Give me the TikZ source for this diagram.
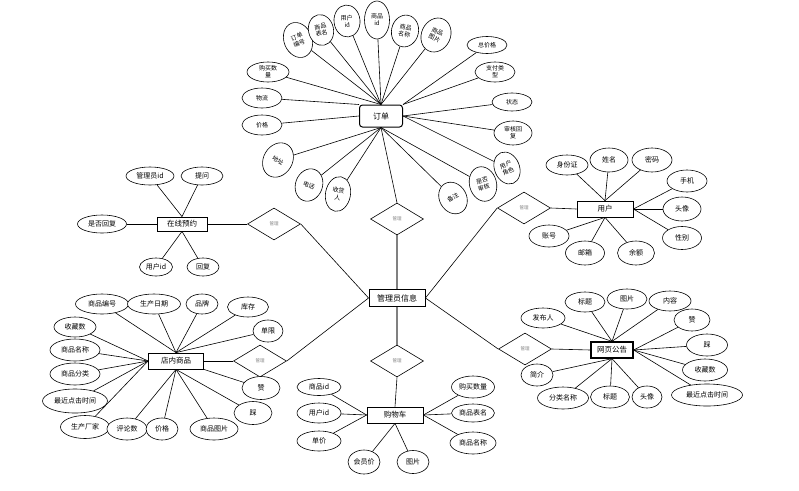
\documentclass[tikz,border=0pt]{standalone}
\usepackage{fontspec}
\setmainfont{Noto Sans CJK SC}
\usepackage{tikz}
\usetikzlibrary{shapes.geometric}
\tikzstyle{entity} = [
  draw,
  rectangle,
  fill=white,
  line width=0.8pt,
  minimum height=16pt,
  inner sep=1pt,
  font=\fontsize{7.5}{8}\selectfont,
]
\tikzstyle{attr} = [
  draw,
  ellipse,
  fill=white,
  line width=0.6pt,
  inner sep=0.5pt,
  minimum height=20pt,
  align=center,
  font=\fontsize{7}{8}\selectfont,
]
\tikzstyle{oattr} = [
  attr,
  font=\fontsize{6}{7}\selectfont,
]
\tikzstyle{relation} = [
  draw,
  diamond,
  fill=white,
  line width=0.6pt,
  minimum width=53pt,
  minimum height=32pt,
  inner sep=0pt,
  text=gray,
  font=\fontsize{4.5}{5}\selectfont,
]
\tikzstyle{link} = [
  line width=0.6pt,
]
\tikzstyle{mainlink} = [
  gray,
  line width=1.3pt,
]

\begin{document}
\begin{tikzpicture}[
    x=1pt,
    y=-1pt,
  ]
  \useasboundingbox (0,0) rectangle (799,490);

  % entities
  \node[
    entity,
    minimum width=43pt,
    minimum height=22pt,
    rounded corners=3pt,
    line width=1pt,
    font=\fontsize{8}{9}\selectfont,
  ](order) at (381,116) {订单};
  \node[
    entity,
    minimum width=56pt,
    minimum height=17pt,
    line width=0.9pt,
    font=\fontsize{8}{9}\selectfont,
  ](admin) at (397,298) {管理员信息};
  \node[
    entity,
    minimum width=50pt,
    minimum height=14pt,
  ](booking) at (182,224) {在线预约};
  \node[
    entity,
    minimum width=56pt,
  ](user) at (605,209) {用户};
  \node[
    entity,
    minimum width=55pt,
  ](goods) at (176,361) {店内商品};
  \node[
    entity,
    minimum width=56pt,
  ](cart) at (395,415) {购物车};
  \node[
    entity,
    minimum width=42pt,
    line width=1.3pt,
  ](notice) at (612,350) {网页公告};

  % relations
  \node[relation] (rorder) at (397,219) {管理};
  \node[relation] (rcart) at (397,361) {管理};
  \node[relation] (rbooking) at (274,224) {管理};
  \node[relation] (ruser) at (524,208) {管理};
  \node[relation] (rgoods) at (260,361) {管理};
  \node[relation] (rnotice) at (525,349) {管理};

  % order attributes
  \node[oattr, minimum width=28pt, minimum height=36pt, rotate=22] (o1) at (298,40) {订单\\编号};
  \node[oattr, minimum width=25pt, minimum height=31pt, rotate=12] (o2) at (321,30) {商品\\表名};
  \node[oattr, minimum width=26pt, minimum height=32pt, rotate=5] (o3) at (347,21) {用户\\id};
  \node[oattr, minimum width=25pt, minimum height=38pt] (o4) at (377,20) {商品\\id};
  \node[oattr, minimum width=27pt, minimum height=32pt, rotate=-12] (o5) at (405,31) {商品\\名称};
  \node[oattr, minimum width=29pt, minimum height=35pt, rotate=-25] (o6) at (436,35) {商品\\图片};
  \node[oattr, minimum width=42pt] (o7) at (268,72) {购买数\\量};
  \node[oattr, minimum width=40pt] (o8) at (262,98) {物流};
  \node[oattr, minimum width=40pt] (o9) at (262,125) {价格};
  \node[oattr, minimum width=40pt, minimum height=17pt] (o10) at (487,45) {总价格};
  \node[oattr, minimum width=40pt] (o11) at (495,72) {支付类\\型};
  \node[oattr, minimum width=40pt, minimum height=18pt] (o12) at (512,102) {状态};
  \node[oattr, minimum width=38pt, minimum height=24pt] (o13) at (513,133) {审核回\\复};
  \node[oattr, minimum width=25pt, minimum height=33pt, rotate=22] (o14) at (507,168) {用户\\角色};
  \node[oattr, minimum width=27pt, minimum height=35pt, rotate=15] (o15) at (483,184) {是否\\审核};
  \node[oattr, minimum width=27pt, minimum height=33pt, rotate=30] (o16) at (453,198) {备注};
  \node[oattr, minimum width=25pt, minimum height=35pt, rotate=-10] (o17) at (338,194) {收货\\人};
  \node[oattr, minimum width=27pt, minimum height=33pt, rotate=-20] (o18) at (309,185) {电话};
  \node[oattr, minimum width=29pt, minimum height=36pt, rotate=-30] (o19) at (278,160) {地址};

  % booking attributes
  \node[attr, minimum width=48pt, minimum height=18pt] (b1) at (150,176) {管理员id};
  \node[attr, minimum width=42pt, minimum height=18pt] (b2) at (202,176) {提问};
  \node[attr, minimum width=49pt, minimum height=18pt] (b3) at (102,224) {是否回复};
  \node[attr, minimum width=33pt, minimum height=18pt] (b4) at (156,267) {用户id};
  \node[attr, minimum width=32pt, minimum height=18pt] (b5) at (203,267) {回复};

  % user attributes
  \node[attr, minimum width=42pt] (u1) at (567,165) {身份证};
  \node[attr, minimum width=38pt, minimum height=24pt] (u2) at (609,160) {姓名};
  \node[attr, minimum width=40pt, minimum height=24pt] (u3) at (652,160) {密码};
  \node[attr, minimum width=40pt, minimum height=22pt] (u4) at (687,181) {手机};
  \node[attr, minimum width=38pt, minimum height=24pt] (u5) at (682,209) {头像};
  \node[attr, minimum width=39pt, minimum height=23pt] (u6) at (682,238) {性别};
  \node[attr, minimum width=40pt, minimum height=22pt] (u7) at (549,236) {账号};
  \node[attr, minimum width=39pt, minimum height=24pt] (u8) at (585,253) {邮箱};
  \node[attr, minimum width=37pt, minimum height=24pt] (u9) at (636,253) {余额};

  % goods attributes
  \node[attr, minimum width=53pt] (g1) at (102,304) {商品编号};
  \node[attr, minimum width=53pt] (g2) at (154,304) {生产日期};
  \node[attr, minimum width=32pt] (g3) at (202,304) {品牌};
  \node[attr, minimum width=41pt] (g4) at (248,307) {库存};
  \node[attr, minimum width=30pt, minimum height=22pt] (g5) at (268,331) {单限};
  \node[attr, minimum width=42pt] (g6) at (75,327) {收藏数};
  \node[attr, minimum width=50pt, minimum height=22pt] (g7) at (75,350) {商品名称};
  \node[attr, minimum width=50pt, minimum height=22pt] (g8) at (75,374) {商品分类};
  \node[attr, minimum width=65pt, minimum height=24pt] (g9) at (75,401) {最近点击时间};
  \node[attr, minimum width=49pt, minimum height=23pt] (g10) at (85,427) {生产厂家};
  \node[attr, minimum width=40pt, minimum height=22pt] (g11) at (127,429) {评论数};
  \node[attr, minimum width=32pt, minimum height=22pt] (g12) at (162,429) {价格};
  \node[attr, minimum width=48pt, minimum height=22pt] (g13) at (214,429) {商品图片};
  \node[attr, minimum width=38pt, minimum height=23pt] (g14) at (261,388) {赞};
  \node[attr, minimum width=38pt, minimum height=23pt] (g15) at (253,413) {踩};

  % cart attributes
  \node[attr, minimum width=44pt, minimum height=17pt] (c1) at (319,387) {商品id};
  \node[attr, minimum width=44pt] (c2) at (319,413) {用户id};
  \node[attr, minimum width=44pt] (c3) at (319,441) {单价};
  \node[attr, minimum width=32pt, minimum height=24pt] (c4) at (364,462) {会员价};
  \node[attr, minimum width=32pt, minimum height=23pt] (c5) at (413,462) {图片};
  \node[attr, minimum width=43pt, minimum height=22pt] (c6) at (473,387) {购买数量};
  \node[attr, minimum width=43pt, minimum height=18pt] (c7) at (473,413) {商品表名};
  \node[attr, minimum width=46pt, minimum height=22pt] (c8) at (473,443) {商品名称};

  % notice attributes
  \node[attr, minimum width=44pt] (n1) at (543,318) {发布人};
  \node[attr, minimum width=40pt] (n2) at (585,302) {标题};
  \node[attr, minimum width=40pt] (n3) at (627,299) {图片};
  \node[attr, minimum width=42pt] (n4) at (670,301) {内容};
  \node[attr, minimum width=36pt, minimum height=22pt] (n5) at (692,320) {赞};
  \node[attr, minimum width=41pt, minimum height=22pt] (n6) at (707,345) {踩};
  \node[attr, minimum width=45pt, minimum height=22pt] (n7) at (705,370) {收藏数};
  \node[attr, minimum width=71pt, minimum height=22pt] (n8) at (707,395) {最近点击时间};
  \node[attr, minimum width=32pt, minimum height=22pt] (n9) at (537,375) {简介};
  \node[attr, minimum width=51pt, minimum height=22pt] (n10) at (563,398) {分类名称};
  \node[attr, minimum width=39pt, minimum height=22pt] (n11) at (610,397) {标题};
  \node[attr, minimum width=30pt, minimum height=22pt] (n12) at (647,397) {头像};

  % connectors
  \path[link] (order.north) edge (o1) edge (o2) edge (o3) edge (o4) edge (o5) edge (o6) edge (o7);
  \path[link] (order.north west) edge (o8);
  \path[link] (order.west) edge (o9);
  \path[link] (order.north east) edge (o10) edge (o11);
  \path[link] (order.east) edge (o12) edge (o13) edge (o14);
  \path[link] (order.south) edge (o15) edge (o16) edge (o17) edge (o18) edge (o19) edge (rorder.north);

  \path[link] (booking.north) edge (b1) edge (b2);
  \path[link] (booking.west) edge (b3);
  \path[link] (booking.south) edge (b4) edge (b5);
  \path[link] (booking.east) edge (rbooking.west);

  \path[link] (user.north) edge (u1) edge (u2) edge (u3);
  \path[link] (user.east) edge (u4) edge (u5) edge (u6);
  \path[link] (user.south) edge (u7) edge (u8) edge (u9);
  \path[link] (ruser.east) edge (user.west);

  \path[link] (goods.north) edge (g1) edge (g2) edge (g3) edge (g4) edge (g5);
  \path[link] (goods.west) edge (g6) edge (g7) edge (g8) edge (g9) edge (g10);
  \path[link] (goods.south) edge (g11) edge (g12) edge (g13) edge (g15);
  \path[link] (goods.south east) edge (g14);
  \path[link] (goods.east) edge (rgoods.west);

  \path[link] (cart.west) edge (c1) edge (c2) edge (c3);
  \path[link] (cart.south) edge (c4) edge (c5);
  \path[link] (cart.east) edge (c6) edge (c7) edge (c8);
  \path[link] (rcart.south) edge (cart.north);

  \path[link] (notice.north) edge (n1) edge (n2) edge (n3) edge (n4);
  \path[link] (notice.east) edge (n5) edge (n6) edge (n7) edge (n8);
  \path[link] (notice.south) edge (n9) edge (n10) edge (n11) edge (n12);
  \path[link] (rnotice.east) edge (notice.west);

  \path[link] (admin.west) edge (rbooking.east) edge (rgoods.east);
  \path[link] (admin.east) edge (ruser.west) edge (rnotice.west);
  \path[mainlink] (admin.north) edge (rorder.south);
  \path[mainlink] (admin.south) edge (rcart.north);
\end{tikzpicture}
\end{document}
